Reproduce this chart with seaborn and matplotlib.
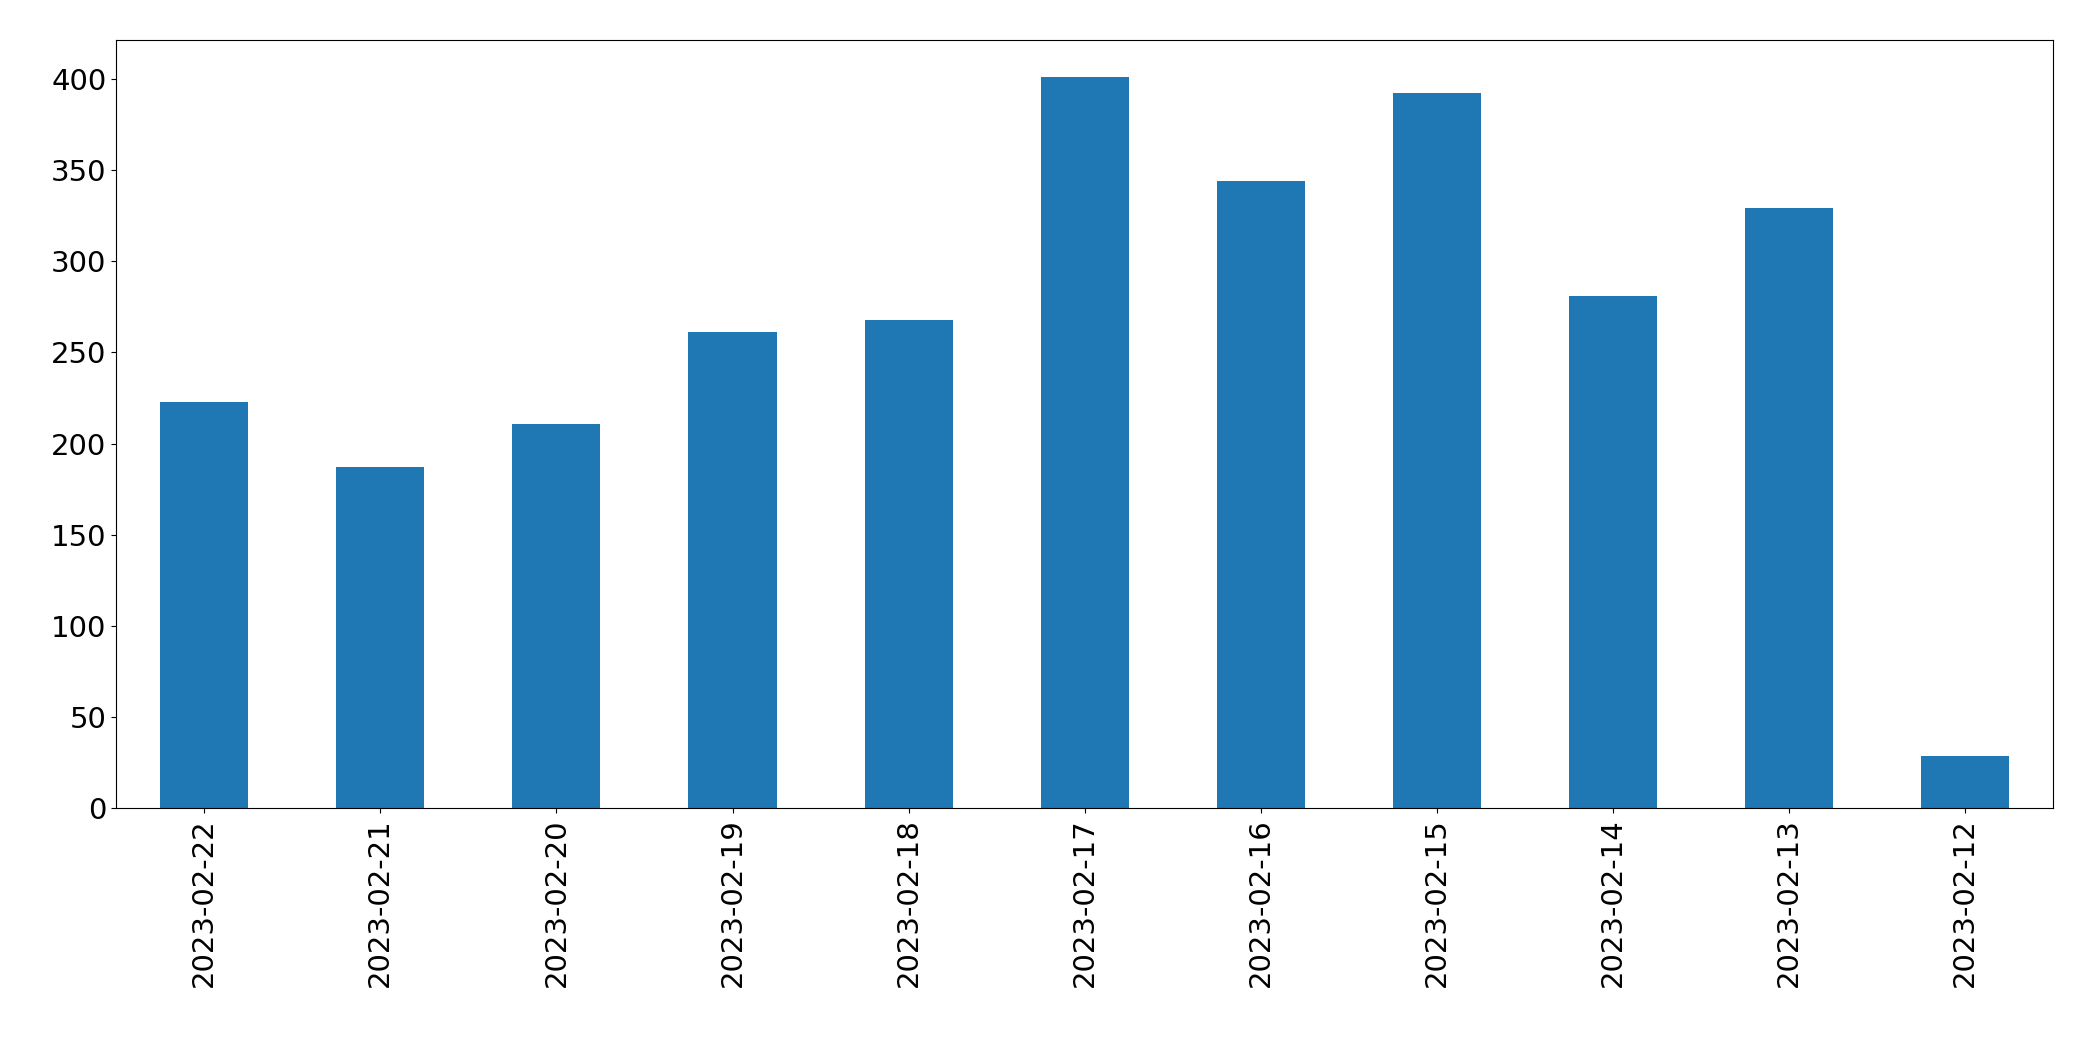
import matplotlib
matplotlib.use("Agg")
import matplotlib.pyplot as plt
import seaborn as sns
import pandas as pd

dates = ["2023-02-22", "2023-02-21", "2023-02-20", "2023-02-19", "2023-02-18", "2023-02-17",
         "2023-02-16", "2023-02-15", "2023-02-14", "2023-02-13", "2023-02-12"]
counts = [223, 187, 211, 261, 268, 401, 344, 392, 281, 329, 29]

df = pd.DataFrame({"date": dates, "count": counts})

fig = plt.figure(figsize=(20.93, 10.61), dpi=100)
ax = fig.add_axes([0.0555, 0.238, 0.9255, 0.724])
sns.barplot(data=df, x="date", y="count", order=dates, color="#1f77b4", saturation=1, width=0.5, ax=ax)
ax.set_xlabel("")
ax.set_ylabel("")
ax.set_ylim(0, max(counts) * 1.05)
ax.set_xlim(-0.5, len(dates) - 0.5)
ax.tick_params(axis="both", labelsize=21)
ax.tick_params(axis="x", rotation=90)
fig.savefig("out.png", dpi=100)
